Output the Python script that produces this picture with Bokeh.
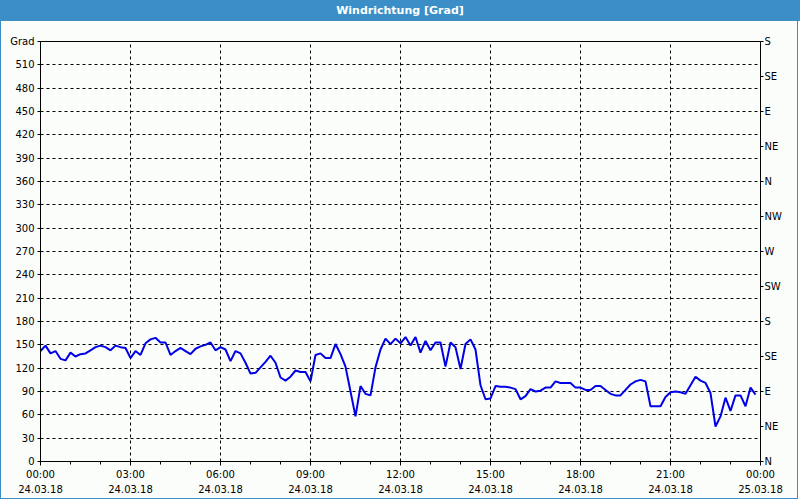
from bokeh.plotting import figure
from bokeh.models import Range1d, LinearAxis, FixedTicker, Grid, Div
from bokeh.layouts import column
from bokeh.embed import file_html
from bokeh.resources import INLINE

title_text = "Windrichtung [Grad]"
unit_label = "Grad"

# time of day in minutes after 24.03.18 00:00 (10-minute readings)
minutes = list(range(0, 1440, 10))
direction = [
    142, 149, 139, 142, 132, 130, 140, 135, 138, 139, 143, 147, 149, 147, 143, 149, 147, 146,
    133, 142, 137, 152, 157, 159, 153, 153, 137, 142, 146, 142, 138, 145, 148, 150, 153, 143,
    147, 144, 129, 142, 139, 127, 113, 114, 121, 128, 136, 127, 108, 104, 109, 117, 115, 115,
    103, 137, 139, 133, 133, 151, 138, 122, 90, 58, 97, 87, 85, 121, 144, 158, 151, 158,
    152, 160, 149, 160, 140, 155, 143, 153, 153, 122, 153, 147, 119, 151, 157, 144, 98, 80,
    81, 97, 96, 96, 95, 93, 80, 84, 93, 90, 91, 95, 95, 103, 101, 101, 101, 95,
    95, 92, 92, 97, 97, 92, 87, 85, 85, 92, 99, 103, 105, 103, 71, 71, 71, 83,
    89, 90, 89, 87, 98, 109, 104, 101, 88, 45, 58, 82, 65, 85, 85, 71, 95, 86,
]

x_tick_minutes = [0, 180, 360, 540, 720, 900, 1080, 1260, 1440]
x_minor_minutes = [60, 120, 240, 300, 420, 480, 600, 660, 780, 840, 960, 1020, 1140, 1200, 1320, 1380]
x_time_labels = ["00:00", "03:00", "06:00", "09:00", "12:00", "15:00", "18:00", "21:00", "00:00"]
x_date_labels = ["24.03.18"] * 8 + ["25.03.18"]

y_ticks = [0, 30, 60, 90, 120, 150, 180, 210, 240, 270, 300, 330, 360, 390, 420, 450, 480, 510, 540]
compass_ticks = [0, 45, 90, 135, 180, 225, 270, 315, 360, 405, 450, 495, 540]
compass_labels = ["N", "NE", "E", "SE", "S", "SW", "W", "NW", "N", "NE", "E", "SE", "S"]

BG = "#fbfdfb"
BLUE = "#3b8fc6"
LINE = "#0000e6"
FONT = "DejaVu Sans"
FS = "10px"

title_bar = Div(text=title_text, width=800, height=21, margin=0,
                styles={"background-color": BLUE, "color": "white", "font-family": FONT,
                        "font-weight": "bold", "font-size": "11px", "text-align": "center",
                        "line-height": "21px", "overflow": "hidden"})

p = figure(width=798, height=478, output_backend="svg", toolbar_location=None,
           x_range=Range1d(0, 1440), y_range=Range1d(0, 540),
           x_axis_type=None, y_axis_type=None, margin=0,
           min_border_left=39, min_border_right=39, min_border_top=20, min_border_bottom=38,
           background_fill_color=BG, border_fill_color=BG,
           outline_line_color="black", outline_line_width=1,
           styles={"border-left": f"1px solid {BLUE}", "border-right": f"1px solid {BLUE}",
                   "border-bottom": f"1px solid {BLUE}"})

def style_axis(ax):
    ax.major_label_text_font = FONT
    ax.major_label_text_font_size = FS
    ax.major_label_text_color = "black"
    ax.axis_line_color = "black"
    ax.major_tick_line_color = "black"
    ax.minor_tick_line_color = "black"
    ax.major_tick_in = 0
    ax.minor_tick_in = 0

# grids
p.add_layout(Grid(dimension=0, ticker=FixedTicker(ticks=x_tick_minutes),
                  grid_line_color="black", grid_line_dash="3 3", grid_line_width=1))
p.add_layout(Grid(dimension=1, ticker=FixedTicker(ticks=y_ticks),
                  grid_line_color="black", grid_line_dash="3 3", grid_line_width=1))

# bottom axes (time, then date)
xa_time = LinearAxis(ticker=FixedTicker(ticks=x_tick_minutes, minor_ticks=x_minor_minutes),
                     major_label_overrides={t: s for t, s in zip(x_tick_minutes, x_time_labels)})
style_axis(xa_time)
xa_time.major_tick_out = 4
xa_time.minor_tick_out = 3
xa_time.major_label_standoff = 3
p.add_layout(xa_time, "below")

xa_date = LinearAxis(ticker=FixedTicker(ticks=x_tick_minutes),
                     major_label_overrides={t: s for t, s in zip(x_tick_minutes, x_date_labels)})
style_axis(xa_date)
xa_date.axis_line_color = None
xa_date.major_tick_line_color = None
xa_date.minor_tick_line_color = None
xa_date.major_tick_out = 0
xa_date.minor_tick_out = 0
xa_date.major_label_standoff = 2
p.add_layout(xa_date, "below")

# left axis (degrees)
ya = LinearAxis(ticker=FixedTicker(ticks=y_ticks),
                major_label_overrides={540: unit_label})
style_axis(ya)
ya.major_tick_out = 3
ya.minor_tick_out = 0
ya.major_label_standoff = 3
p.add_layout(ya, "left")

# right axis (compass)
yr = LinearAxis(ticker=FixedTicker(ticks=compass_ticks),
                major_label_overrides={t: s for t, s in zip(compass_ticks, compass_labels)})
style_axis(yr)
yr.major_tick_out = 3
yr.minor_tick_out = 0
yr.major_label_standoff = 1
p.add_layout(yr, "right")

p.line(minutes, direction, line_color=LINE, line_width=2)

layout = column(title_bar, p, spacing=0, margin=0)

open("out.html", "w").write(file_html(layout, INLINE))
